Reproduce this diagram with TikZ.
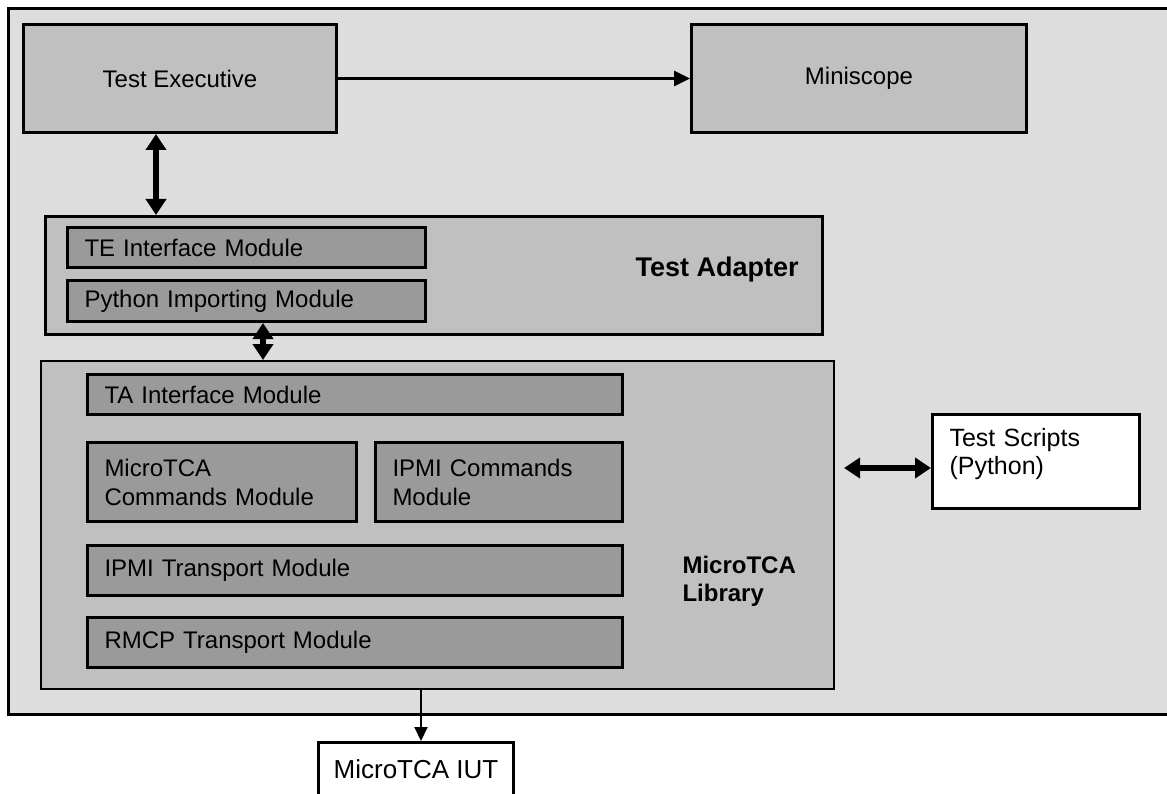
\documentclass[tikz,border=0pt]{standalone}
\usepackage{fontspec}
\setmainfont{Liberation Sans}
\usepackage{tikz}
\usetikzlibrary{arrows.meta}
\usetikzlibrary{calc,shapes}
\definecolor{bgcol}{RGB}{221,221,221}
\definecolor{boxcol}{RGB}{192,192,192}
\definecolor{modcol}{RGB}{154,154,154}

\begin{document}
\begin{tikzpicture}[x=1pt,y=-1pt,
		bigbox/.style={draw,fill=boxcol,line width=3pt,anchor=north west,font=\fontsize{24}{29}\selectfont},
		module/.style={draw,fill=modcol,line width=3pt,anchor=north west,inner xsep=17pt,align=left,font=\fontsize{24}{29}\selectfont},
		whitebox/.style={draw,fill=white,line width=3pt,anchor=north west,font=\fontsize{25}{28}\selectfont},
		boldlabel/.style={anchor=west,align=left,font=\bfseries\fontsize{24}{28}\selectfont},
		dbl/.style={{Triangle[width=20pt,length=16pt]}-{Triangle[width=20pt,length=16pt]},line width=6pt},
		single/.style={-{Triangle[width=15pt,length=16pt]},line width=3pt}]
			\useasboundingbox (0,0) rectangle (1167,794);
			\draw [line width=3pt,fill=bgcol] (8,9) rectangle (1185,714);
			% top row
			\node [bigbox,minimum width=313pt,minimum height=108pt] (texec) at (22,23) {Test Executive};
			\node [bigbox,minimum width=335pt,minimum height=108pt] (mini) at (690,23) {Miniscope};
			% test adapter
			\node [bigbox,minimum width=777pt,minimum height=118pt] (adapter) at (44,215) {};
			\node [module,text width=324pt,minimum height=40pt] (temod) at (66,226) {TE Interface Module};
			\node [module,text width=324pt,minimum height=41pt] (pymod) at (66,279) {Python Importing Module};
			\node [boldlabel,font=\bfseries\fontsize{27}{30}\selectfont] (talabel) at (632,270) {Test Adapter};
			% library
			\node [bigbox,line width=2pt,minimum width=793pt,minimum height=328pt] (lib) at (40,360) {};
			\node [module,text width=501pt,minimum height=40pt] (tamod) at (86,373) {TA Interface Module};
			\node [module,text width=235pt,minimum height=79pt] (mtcamod) at (86,441) {MicroTCA\\Commands Module};
			\node [module,text width=213pt,minimum height=79pt] (ipmicmd) at (374,441) {IPMI Commands\\Module};
			\node [module,text width=501pt,minimum height=50pt] (ipmitr) at (86,544) {IPMI Transport Module};
			\node [module,text width=501pt,minimum height=50pt] (rmcp) at (86,616) {RMCP Transport Module};
			\node [boldlabel] (liblabel) at (679,581) {MicroTCA\\Library};
			% outside
			\node [whitebox,inner xsep=17pt,text width=173pt,align=left,text height=20pt,text depth=50pt,inner ysep=12pt] (scripts) at (931,413) {Test Scripts\\(Python)};
			\node [whitebox,font=\fontsize{26}{28}\selectfont,minimum width=195pt,minimum height=54pt] (iut) at (317,741) {MicroTCA IUT};
			% connectors
			\coordinate (c1) at (156,0);
			\coordinate (c2) at (263,0);
			\coordinate (c3) at (0,468);
			\coordinate (c4) at (421,0);
			\draw [single] (texec) -- (mini);
			\draw [dbl] (texec.south -| c1) -- (adapter.north -| c1);
			\draw [dbl] (pymod.south -| c2) -- (lib.north -| c2);
			\draw [dbl] ([xshift=9pt]lib.east |- c3) -- (scripts.west |- c3);
			\draw [-{Triangle[width=13pt,length=14pt]},line width=2pt] (lib.south -| c4) -- (iut.north -| c4);
\end{tikzpicture}
\end{document}
